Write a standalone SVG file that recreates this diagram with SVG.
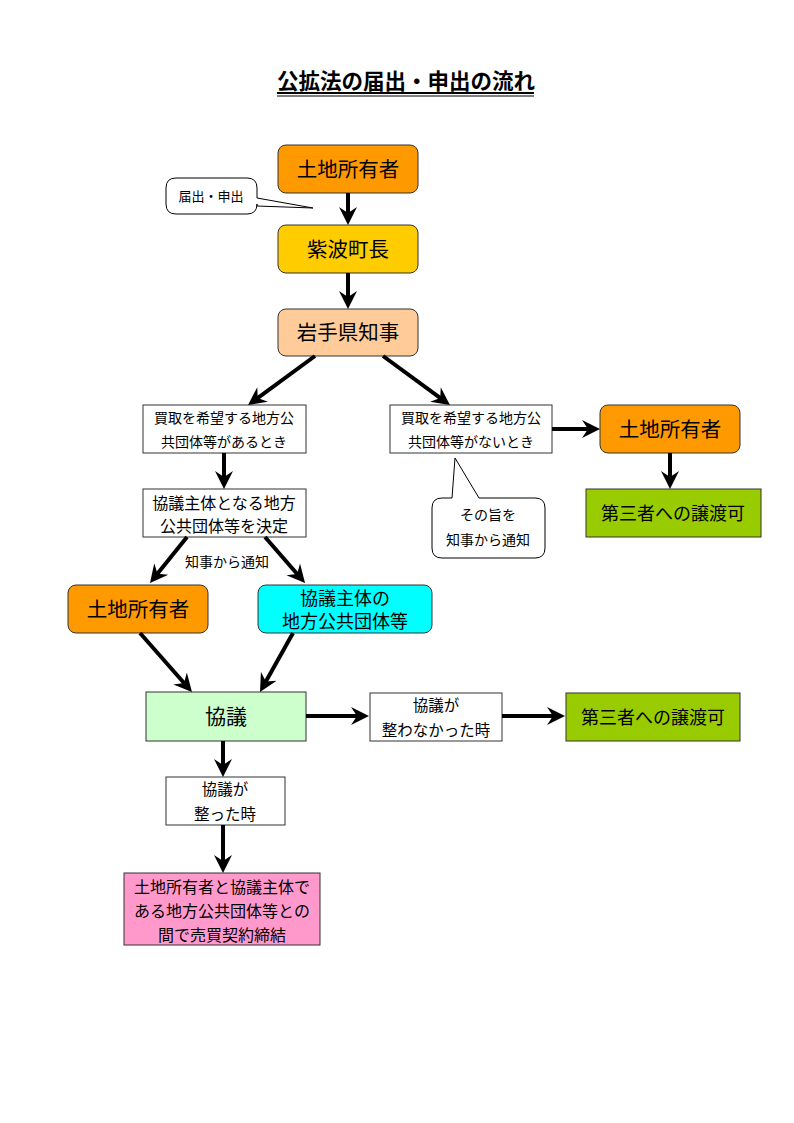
<svg xmlns="http://www.w3.org/2000/svg" width="794" height="1123" viewBox="0 0 794 1123">
<defs>
<marker id="ah" markerUnits="userSpaceOnUse" markerWidth="20" markerHeight="20" refX="10" refY="9" orient="auto" viewBox="0 0 20 18">
<path d="M0,0 L18,9 L0,18 L6,9 z" fill="#000"/>
</marker>
<style>
text{font-family:"Liberation Serif","Noto Sans CJK JP",serif;fill:#000;text-anchor:middle}
.big{font-size:20.5px}
.mid{font-size:18px}
.sm{font-size:14px}
.md{font-size:15.5px}
.pk{font-size:16px}
.rnd{stroke:#333;stroke-width:1}
.box{fill:#fff;stroke:#333;stroke-width:1}
.con line{stroke:#000;stroke-width:4}
.call{fill:#fff;stroke:#000;stroke-width:1}
</style>
</defs>
<rect width="794" height="1123" fill="#fff"/>

<g id="title">
<text x="406" y="89" style="font-size:21.5px;font-weight:bold">公拡法の届出・申出の流れ</text>
<line x1="277" y1="93" x2="534" y2="93" stroke="#000" stroke-width="2"/>
<line x1="277" y1="96" x2="534" y2="96" stroke="#000" stroke-width="1"/>
</g>

<g id="n_owner1"><rect class="rnd" x="278" y="145" width="140" height="48" rx="8" fill="#FF9900"/><text class="big" x="348" y="177">土地所有者</text></g>
<g id="callout1"><path class="call" d="M176,178 H247 Q257,178 257,188 V198 L313,208 L257,206 V204 Q257,214 247,214 H176 Q166,214 166,204 V188 Q166,178 176,178 Z"/><text class="sm" x="211" y="201" style="font-size:13px">届出・申出</text></g>
<g id="n_mayor"><rect class="rnd" x="278" y="225" width="140" height="48" rx="8" fill="#FFCC00"/><text class="big" x="348" y="257">紫波町長</text></g>
<g id="n_gov"><rect class="rnd" x="278" y="309" width="140" height="47" rx="8" fill="#FFCC99"/><text class="big" x="348" y="340">岩手県知事</text></g>

<g id="n_yes"><rect class="box" x="143" y="405" width="163" height="48"/><text class="sm" x="224" y="423">買取を希望する地方公</text><text class="sm" x="224" y="447">共団体等があるとき</text></g>
<g id="n_no"><rect class="box" x="390" y="405" width="162" height="48"/><text class="sm" x="471" y="423">買取を希望する地方公</text><text class="sm" x="471" y="447">共団体等がないとき</text></g>
<g id="n_owner2"><rect class="rnd" x="600" y="405" width="140" height="48" rx="8" fill="#FF9900"/><text class="big" x="670" y="437">土地所有者</text></g>
<g id="n_third1"><rect class="rnd" x="586" y="489" width="175" height="48" fill="#99CC00"/><text class="mid" x="673" y="520">第三者への譲渡可</text></g>
<g id="callout2"><path class="call" d="M452,498 L455,458 L479,498 H535 Q545,498 545,508 V548 Q545,558 535,558 H442 Q432,558 432,548 V508 Q432,498 442,498 Z"/><text class="sm" x="488" y="520">その旨を</text><text class="sm" x="488" y="545">知事から通知</text></g>

<g id="n_decide"><rect class="box" x="143" y="489" width="163" height="48"/><text class="pk" x="224" y="509">協議主体となる地方</text><text class="pk" x="224" y="532">公共団体等を決定</text></g>
<g id="lbl_notify"><text class="sm" x="227" y="567">知事から通知</text></g>
<g id="n_owner3"><rect class="rnd" x="68" y="585" width="140" height="48" rx="8" fill="#FF9900"/><text class="big" x="138" y="617">土地所有者</text></g>
<g id="n_body"><rect class="rnd" x="258" y="585" width="174" height="48" rx="8" fill="#00FFFF"/><text class="mid" x="345" y="605">協議主体の</text><text class="mid" x="345" y="628">地方公共団体等</text></g>

<g id="n_kyogi"><rect class="rnd" x="146" y="692" width="160" height="49" fill="#CCFFCC"/><text class="big" x="226" y="724" style="font-size:21px">協議</text></g>
<g id="n_fail"><rect class="box" x="370" y="693" width="132" height="48"/><text class="md" x="436" y="711">協議が</text><text class="md" x="436" y="736">整わなかった時</text></g>
<g id="n_third2"><rect class="rnd" x="566" y="693" width="174" height="48" fill="#99CC00"/><text class="mid" x="653" y="724">第三者への譲渡可</text></g>
<g id="n_ok"><rect class="box" x="166" y="777" width="119" height="48"/><text class="md" x="225" y="795">協議が</text><text class="md" x="225" y="820">整った時</text></g>
<g id="n_contract"><rect class="rnd" x="124" y="873" width="196" height="72" fill="#FF99CC"/><text class="pk" x="222" y="893">土地所有者と協議主体で</text><text class="pk" x="222" y="917">ある地方公共団体等との</text><text class="pk" x="222" y="941">間で売買契約締結</text></g>

<g id="connectors" class="con">
<line x1="348" y1="193" x2="348" y2="217" marker-end="url(#ah)"/>
<line x1="348" y1="273" x2="348" y2="301" marker-end="url(#ah)"/>
<line x1="315" y1="356" x2="254.5" y2="400.3" marker-end="url(#ah)"/>
<line x1="383" y1="356" x2="443.5" y2="400.3" marker-end="url(#ah)"/>
<line x1="552" y1="429" x2="592" y2="429" marker-end="url(#ah)"/>
<line x1="670" y1="453" x2="670" y2="481" marker-end="url(#ah)"/>
<line x1="224" y1="453" x2="224" y2="481" marker-end="url(#ah)"/>
<line x1="187" y1="537" x2="155" y2="576.8" marker-end="url(#ah)"/>
<line x1="265" y1="537" x2="299.8" y2="577" marker-end="url(#ah)"/>
<line x1="140" y1="633" x2="186.7" y2="686" marker-end="url(#ah)"/>
<line x1="293" y1="633" x2="263.9" y2="685" marker-end="url(#ah)"/>
<line x1="306" y1="716" x2="361" y2="716" marker-end="url(#ah)"/>
<line x1="502" y1="716" x2="557" y2="716" marker-end="url(#ah)"/>
<line x1="223" y1="741" x2="223" y2="769" marker-end="url(#ah)"/>
<line x1="223" y1="825" x2="223" y2="865" marker-end="url(#ah)"/>
</g>
</svg>
